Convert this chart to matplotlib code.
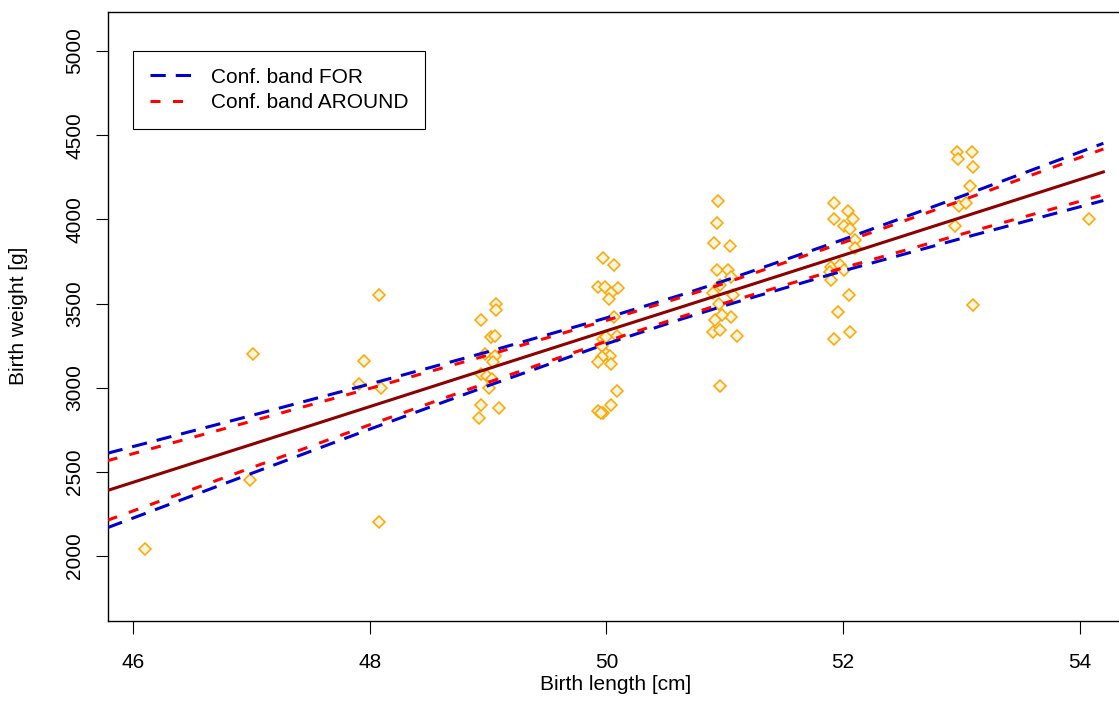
import matplotlib
matplotlib.use("Agg")
from matplotlib import pyplot as plt
from matplotlib.lines import Line2D

plt.rcParams['font.family'] = ['Liberation Sans', 'DejaVu Sans']
plt.rcParams['lines.scale_dashes'] = False

# birth length [cm] / birth weight [g]
length_cm = [46.10, 47.01, 46.99, 48.08, 47.95, 47.91, 48.09, 48.08,
             49.07, 49.07, 48.94, 49.02, 49.06, 48.97, 49.06, 49.04, 48.94, 48.99,
             49.03, 49.01, 48.94, 49.09, 48.92,
             49.97, 50.06, 49.93, 49.99, 50.10, 50.04, 50.02, 50.06, 50.09, 49.97,
             50.00, 49.96, 50.00, 50.03, 49.96, 49.93, 50.04, 50.09, 50.04, 49.93,
             49.97, 49.95,
             50.94, 50.93, 50.91, 51.04, 50.93, 51.03, 51.05, 50.96, 50.90, 51.07,
             50.95, 51.05, 50.98, 50.92, 50.90, 50.96, 51.10, 50.96,
             51.92, 52.04, 51.92, 52.08, 52.01, 52.06, 52.10, 52.10, 51.90, 51.97,
             52.01, 51.89, 51.90, 52.05, 51.96, 52.06, 51.92,
             52.96, 53.09, 52.97, 53.10, 53.07, 52.98, 53.04, 52.95, 53.10, 54.08]
weight_g = [2040, 3200, 2450, 3550, 3160, 3020, 3000, 2200,
            3500, 3460, 3400, 3300, 3310, 3200, 3190, 3150, 3080, 3070,
            3050, 3000, 2900, 2880, 2820,
            3770, 3730, 3600, 3600, 3590, 3560, 3530, 3420, 3310, 3290,
            3300, 3250, 3200, 3190, 3180, 3150, 3140, 2980, 2900, 2860,
            2850, 2850,
            4110, 3980, 3860, 3840, 3700, 3700, 3660, 3610, 3560, 3550,
            3500, 3420, 3430, 3400, 3330, 3340, 3310, 3010,
            4100, 4050, 4000, 4000, 3960, 3940, 3880, 3830, 3720, 3730,
            3700, 3690, 3640, 3550, 3450, 3330, 3290,
            4400, 4400, 4360, 4310, 4200, 4080, 4100, 3960, 3490, 4000]

# fitted line and the two confidence bands
band_x = [45.784, 47, 48, 49, 50, 50.63, 51, 52, 53, 54.2]
fit_y = [2390, 2663, 2888, 3113, 3338, 3479, 3562, 3787, 4012, 4282]
for_upper = [2611, 2835, 3022, 3214, 3415, 3551, 3636, 3880, 4137, 4452]
for_lower = [2169, 2491, 2754, 3012, 3261, 3407, 3488, 3694, 3887, 4112]
around_upper = [2567, 2801, 2996, 3194, 3400, 3537, 3621, 3862, 4112, 4418]
around_lower = [2213, 2525, 2780, 3032, 3276, 3421, 3503, 3712, 3912, 4146]

x_ticks = [46, 48, 50, 52, 54]
y_ticks = [2000, 2500, 3000, 3500, 4000, 4500, 5000]

W, H = 1119, 722
fig = plt.figure(figsize=(W / 100, H / 100), dpi=100)
ax = fig.add_axes([107.7 / W, 1 - 620.7 / H, 1 - 107.7 / W, (620.7 - 12) / H])

ax.plot(length_cm, weight_g, 'D', ls='none', ms=6.3,
        mfc='#F5F5DC', mec='#FFA500', mew=1.1, zorder=2)

blue = '#0000CD'
red = '#FF0000'
blue_dash = (11, 7.2)
red_dash = (7.2, 9)

ax.plot(band_x, fit_y, color='#8B0000', lw=2.2, zorder=3)
ax.plot(band_x, for_upper, color=blue, lw=2.2, dashes=blue_dash, zorder=3)
ax.plot(band_x, for_lower, color=blue, lw=2.2, dashes=blue_dash, zorder=3)
ax.plot(band_x, around_upper, color=red, lw=2.2, dashes=red_dash, zorder=3)
ax.plot(band_x, around_lower, color=red, lw=2.2, dashes=red_dash, zorder=3)

ax.set_xlim(45.784, 54.332)
ax.set_ylim(1616, 5232)
ax.set_xticks(x_ticks)
ax.set_yticks(y_ticks)
ax.tick_params(axis='both', direction='out', length=9, width=0.8,
               labelsize=15, colors='black')
ax.tick_params(axis='x', pad=14)
ax.tick_params(axis='y', pad=8, labelrotation=90)
for lab in ax.get_yticklabels():
    lab.set_verticalalignment('center')

for side in ['left', 'bottom', 'top']:
    ax.spines[side].set_linewidth(1.0)
ax.spines['right'].set_visible(False)

fig.text(616 / W, 1 - 684 / H, 'Birth length [cm]', ha='center', va='center', fontsize=15)
fig.text(18.5 / W, 1 - 316 / H, 'Birth weight [g]', ha='center', va='center',
         rotation=90, fontsize=15)

handles = [Line2D([], [], color=blue, lw=2.2, dashes=blue_dash),
           Line2D([], [], color=red, lw=2.2, dashes=red_dash)]
leg = ax.legend(handles, ['Conf. band FOR', 'Conf. band AROUND'],
                loc='upper left', bbox_to_anchor=(133 / W, 1 - 51 / H),
                bbox_transform=fig.transFigure, borderaxespad=0,
                fancybox=False, edgecolor='black', framealpha=1,
                fontsize=15, handlelength=2.0, handletextpad=0.93,
                borderpad=0.8, labelspacing=0.3)
leg.get_frame().set_linewidth(0.8)

fig.savefig('out.png', dpi=100)
